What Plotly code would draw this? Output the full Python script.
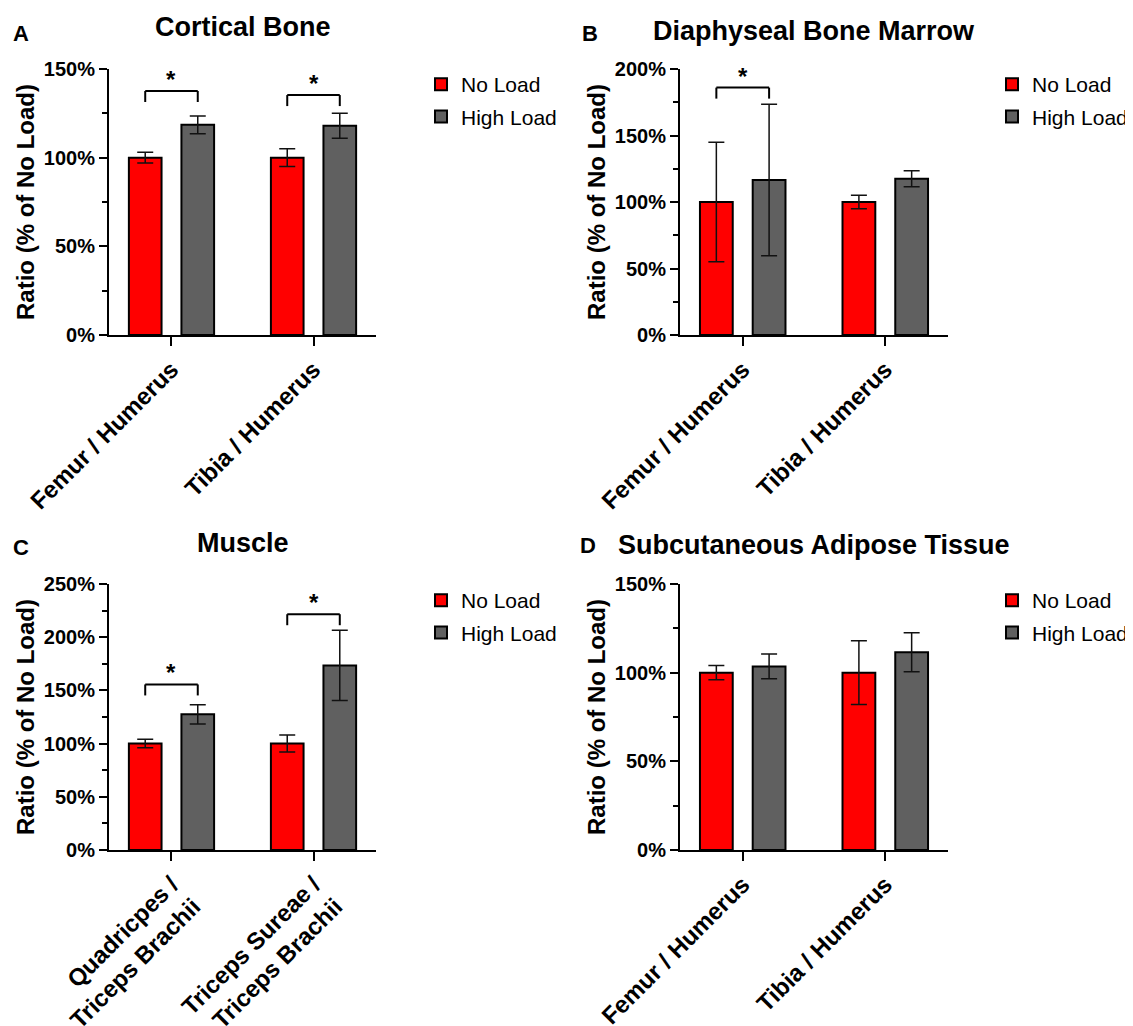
import plotly.graph_objects as go

# ---------------- data ----------------
bone_categories = ["Femur / Humerus", "Tibia / Humerus"]
muscle_categories = ["Quadricpes /<br>Triceps Brachii", "Triceps Sureae /<br>Triceps Brachii"]
series_names = ["No Load", "High Load"]

cortical_no_load = [100, 100]
cortical_no_load_err = [3, 5]
cortical_high_load = [118.5, 118]
cortical_high_load_err = [5, 7]

marrow_no_load = [100, 100]
marrow_no_load_err = [45, 5]
marrow_high_load = [116.5, 117.5]
marrow_high_load_err = [57, 6]

muscle_no_load = [100, 100]
muscle_no_load_err = [4, 8]
muscle_high_load = [127.5, 173.5]
muscle_high_load_err = [9, 33]

adipose_no_load = [100, 100]
adipose_no_load_err = [4, 18]
adipose_high_load = [103.5, 111.5]
adipose_high_load_err = [7, 11]

y_tick_suffix = "%"

# ---------------- style / layout config ----------------
FONT = "Liberation Sans, Arial, Helvetica, sans-serif"
PAGE_W, PAGE_H = 1133, 1026
BODY = 8  # default page body margin in the browser
W, H = PAGE_W - BODY, PAGE_H - BODY
RED = "#ff0000"
GRAY = "#606060"
BAR_W = 0.23
OFFSETS = [-0.30, 0.07]


def px(x):
    return (x - BODY) / W


def py(y):
    return 1 - (y - BODY) / H


panels = [
    dict(letter="A", title="Cortical Bone", cats=bone_categories,
         no=cortical_no_load, no_err=cortical_no_load_err,
         hi=cortical_high_load, hi_err=cortical_high_load_err,
         ymax=150, sig=[(0, 137.6), (1, 135.3)],
         x0=109, x1=376, ytop=69, ybot=335, title_y=27, letter_xy=(21, 33),
         legend_xy=(421, 64)),
    dict(letter="B", title="Diaphyseal Bone Marrow", cats=bone_categories,
         no=marrow_no_load, no_err=marrow_no_load_err,
         hi=marrow_high_load, hi_err=marrow_high_load_err,
         ymax=200, sig=[(0, 186)],
         x0=680, x1=948, ytop=69, ybot=335, title_y=31, letter_xy=(590, 33),
         legend_xy=(992, 64)),
    dict(letter="C", title="Muscle", cats=muscle_categories,
         no=muscle_no_load, no_err=muscle_no_load_err,
         hi=muscle_high_load, hi_err=muscle_high_load_err,
         ymax=250, sig=[(0, 155.6), (1, 221.6)],
         x0=109, x1=376, ytop=584, ybot=850, title_y=543, letter_xy=(21, 547),
         legend_xy=(421, 580)),
    dict(letter="D", title="Subcutaneous Adipose Tissue", cats=bone_categories,
         no=adipose_no_load, no_err=adipose_no_load_err,
         hi=adipose_high_load, hi_err=adipose_high_load_err,
         ymax=150, sig=[],
         x0=680, x1=948, ytop=584, ybot=850, title_y=545, letter_xy=(588, 545),
         legend_xy=(992, 580)),
]

fig = go.Figure()
layout = dict(
    width=W, height=H,
    margin=dict(l=0, r=0, t=0, b=0, autoexpand=False),
    paper_bgcolor="white", plot_bgcolor="white",
    font=dict(family=FONT, color="black"),
    showlegend=True,
    annotations=[], shapes=[],
)

for i, p in enumerate(panels):
    sfx = "" if i == 0 else str(i + 1)
    xref, yref = "x" + sfx, "y" + sfx
    legend_name = "legend" + sfx
    xs = list(range(len(p["cats"])))
    for s, (vals, errs, color) in enumerate([(p["no"], p["no_err"], RED),
                                             (p["hi"], p["hi_err"], GRAY)]):
        fig.add_trace(go.Bar(
            x=xs, y=vals, name=series_names[s],
            xaxis=xref, yaxis=yref,
            width=BAR_W, offset=OFFSETS[s],
            marker=dict(color=color, line=dict(color="black", width=2)),
            error_y=dict(type="data", array=errs, color="#111111",
                         thickness=1.5, width=8),
            legend=legend_name, legendgroup=f"{i}-{s}",
            hoverinfo="skip",
        ))

    layout["xaxis" + sfx] = dict(
        domain=[px(p["x0"]), px(p["x1"])], anchor=yref, automargin=False,
        range=[-0.44, 1.44], tickvals=xs, ticktext=p["cats"],
        tickangle=-45, ticks="outside", ticklen=9, tickwidth=2,
        tickcolor="black", showline=True, linecolor="black", linewidth=2,
        showgrid=False, zeroline=False, fixedrange=True,
        tickfont=dict(size=24, weight="bold", family=FONT),
    )
    layout["yaxis" + sfx] = dict(
        domain=[py(p["ybot"]), py(p["ytop"])], anchor=xref,
        automargin=False,
        range=[0, p["ymax"]], dtick=50, tick0=0, ticksuffix=y_tick_suffix,
        ticks="outside", ticklen=8, tickwidth=2, tickcolor="black",
        minor=dict(dtick=25, ticks="outside", ticklen=5, tickwidth=2,
                   tickcolor="black"),
        showline=True, linecolor="black", linewidth=2,
        showgrid=False, zeroline=False, fixedrange=True,
        tickfont=dict(size=20, weight="bold", family=FONT),
        title=dict(text="Ratio (% of No Load)",
                   font=dict(size=24, weight="bold", family=FONT),
                   standoff=2),
    )
    layout[legend_name] = dict(
        x=px(p["legend_xy"][0]), y=py(p["legend_xy"][1]),
        xanchor="left", yanchor="top",
        font=dict(size=21, family=FONT), bgcolor="rgba(0,0,0,0)",
        traceorder="grouped", tracegroupgap=2,
    )

    # panel title and letter
    layout["annotations"].append(dict(
        text=p["title"], x=px((p["x0"] + p["x1"]) / 2), y=py(p["title_y"]),
        xref="paper", yref="paper", xanchor="center", yanchor="middle",
        showarrow=False, font=dict(size=27, weight="bold", family=FONT)))
    layout["annotations"].append(dict(
        text=p["letter"], x=px(p["letter_xy"][0]), y=py(p["letter_xy"][1]),
        xref="paper", yref="paper", xanchor="center", yanchor="middle",
        showarrow=False, font=dict(size=22, weight="bold", family=FONT)))

    # significance brackets
    leg = p["ymax"] * 11 / 266
    c_no = OFFSETS[0] + BAR_W / 2
    c_hi = OFFSETS[1] + BAR_W / 2
    for (ci, yb) in p["sig"]:
        xa, xb = ci + c_no, ci + c_hi
        for (a, b, c, d) in [(xa, yb - leg, xa, yb), (xa, yb, xb, yb), (xb, yb, xb, yb - leg)]:
            layout["shapes"].append(dict(
                type="line", xref=xref, yref=yref, x0=a, y0=b, x1=c, y1=d,
                line=dict(color="black", width=2)))
        layout["annotations"].append(dict(
            text="*", x=(xa + xb) / 2, y=yb, xref=xref, yref=yref,
            xanchor="center", yanchor="bottom", yshift=-4, showarrow=False,
            font=dict(size=24, weight="bold", family=FONT)))

fig.update_layout(**layout)
fig.write_html("out.html")
